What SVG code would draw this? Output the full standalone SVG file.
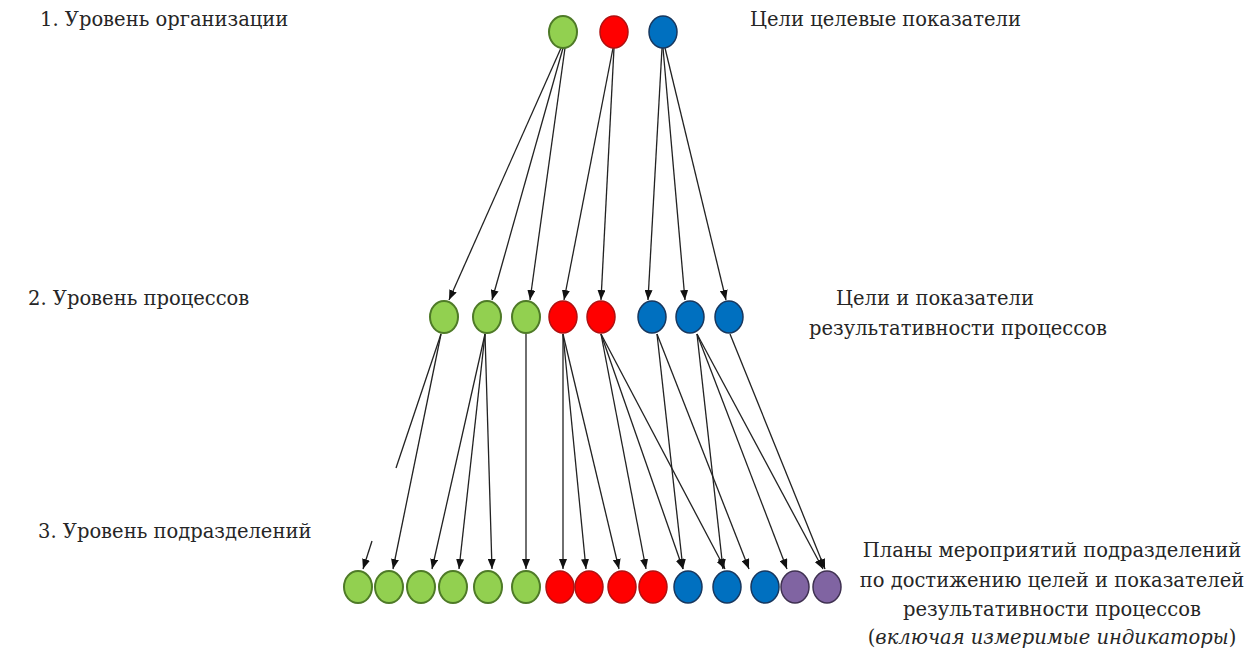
<svg xmlns="http://www.w3.org/2000/svg" width="1248" height="650" viewBox="0 0 1248 650">
<style>
.t{font-family:"DejaVu Serif","Liberation Serif",serif;font-size:19.5px;fill:#262626}
.g{fill:#92D050;stroke:#4E7A27;stroke-width:2}
.r{fill:#FF0000;stroke:#B01010;stroke-width:1.5}
.b{fill:#0070C0;stroke:#17375E;stroke-width:1.5}
.p{fill:#8064A2;stroke:#3F3151;stroke-width:1.5}
.c line{stroke:#222;stroke-width:1.3;marker-end:url(#ah)}
.c line.n{marker-end:none}
</style>
<defs>
<marker id="ah" viewBox="0 0 10 8" refX="10" refY="4" markerWidth="10" markerHeight="8" markerUnits="userSpaceOnUse" orient="auto">
<path d="M0,0 L10,4 L0,8 z" fill="#111"/>
</marker>
</defs>
<rect width="1248" height="650" fill="#fff"/>

<g id="labels">
<text class="t" x="40" y="26">1. Уровень организации</text>
<text class="t" x="750" y="26">Цели целевые показатели</text>
<text class="t" x="28" y="305">2. Уровень процессов</text>
<text class="t" x="935" y="305" text-anchor="middle">Цели и показатели</text>
<text class="t" x="958" y="335" text-anchor="middle">результативности процессов</text>
<text class="t" x="38" y="538">3. Уровень подразделений</text>
<text class="t" x="1052" y="557" text-anchor="middle">Планы мероприятий подразделений</text>
<text class="t" x="1052" y="587" text-anchor="middle">по достижению целей и показателей</text>
<text class="t" x="1052" y="616" text-anchor="middle">результативности процессов</text>
<text class="t" x="1052" y="644" text-anchor="middle">(<tspan font-style="italic">включая измеримые индикаторы</tspan>)</text>
</g>

<g id="connectors" class="c">
<line x1="561" y1="48" x2="449" y2="300"/>
<line x1="563" y1="48" x2="492" y2="300"/>
<line x1="565" y1="48" x2="530" y2="300"/>
<line x1="613" y1="48" x2="564" y2="300"/>
<line x1="614" y1="48" x2="601" y2="300"/>
<line x1="662" y1="48" x2="648" y2="300"/>
<line x1="663" y1="48" x2="685" y2="300"/>
<line x1="665" y1="48" x2="726" y2="300"/>

<line class="n" x1="441" y1="334" x2="396" y2="468"/>
<line x1="441" y1="334" x2="393" y2="569"/>
<line x1="372" y1="541" x2="363" y2="569"/>
<line x1="485" y1="334" x2="432" y2="569"/>
<line x1="485" y1="334" x2="459" y2="569"/>
<line x1="485" y1="334" x2="492" y2="569"/>
<line x1="526" y1="334" x2="526" y2="569"/>
<line x1="563" y1="334" x2="563" y2="569"/>
<line x1="563" y1="334" x2="586" y2="569"/>
<line x1="563" y1="334" x2="619" y2="569"/>
<line x1="601" y1="334" x2="646" y2="569"/>
<line x1="601" y1="334" x2="683" y2="569"/>
<line x1="601" y1="334" x2="725" y2="569"/>
<line x1="657" y1="334" x2="683" y2="569"/>
<line x1="657" y1="334" x2="749" y2="569"/>
<line x1="697" y1="334" x2="723" y2="569"/>
<line x1="697" y1="334" x2="787" y2="569"/>
<line x1="697" y1="334" x2="823" y2="569"/>
<line x1="730" y1="334" x2="825" y2="569"/>
</g>

<g id="level1">
<ellipse id="n1g" class="g" cx="563" cy="32" rx="14" ry="16"/>
<ellipse id="n1r" class="r" cx="614" cy="32" rx="14" ry="16"/>
<ellipse id="n1b" class="b" cx="663" cy="32" rx="14" ry="16"/>
</g>

<g id="level2">
<ellipse id="n2g1" class="g" cx="444" cy="317" rx="14" ry="16"/>
<ellipse id="n2g2" class="g" cx="487" cy="317" rx="14" ry="16"/>
<ellipse id="n2g3" class="g" cx="526" cy="317" rx="14" ry="16"/>
<ellipse id="n2r1" class="r" cx="563" cy="317" rx="14" ry="16"/>
<ellipse id="n2r2" class="r" cx="601" cy="317" rx="14" ry="16"/>
<ellipse id="n2b1" class="b" cx="652" cy="317" rx="14" ry="16"/>
<ellipse id="n2b2" class="b" cx="690" cy="317" rx="14" ry="16"/>
<ellipse id="n2b3" class="b" cx="729" cy="317" rx="14" ry="16"/>
</g>

<g id="level3">
<ellipse id="n3g1" class="g" cx="358" cy="587" rx="14" ry="16"/>
<ellipse id="n3g2" class="g" cx="389" cy="587" rx="14" ry="16"/>
<ellipse id="n3g3" class="g" cx="421" cy="587" rx="14" ry="16"/>
<ellipse id="n3g4" class="g" cx="453" cy="587" rx="14" ry="16"/>
<ellipse id="n3g5" class="g" cx="488" cy="587" rx="14" ry="16"/>
<ellipse id="n3g6" class="g" cx="526" cy="587" rx="14" ry="16"/>
<ellipse id="n3r1" class="r" cx="560" cy="587" rx="14" ry="16"/>
<ellipse id="n3r2" class="r" cx="589" cy="587" rx="14" ry="16"/>
<ellipse id="n3r3" class="r" cx="622" cy="587" rx="14" ry="16"/>
<ellipse id="n3r4" class="r" cx="653" cy="587" rx="14" ry="16"/>
<ellipse id="n3b1" class="b" cx="688" cy="587" rx="14" ry="16"/>
<ellipse id="n3b2" class="b" cx="727" cy="587" rx="14" ry="16"/>
<ellipse id="n3b3" class="b" cx="765" cy="587" rx="14" ry="16"/>
<ellipse id="n3p1" class="p" cx="795" cy="587" rx="14" ry="16"/>
<ellipse id="n3p2" class="p" cx="827" cy="587" rx="14" ry="16"/>
</g>
</svg>
